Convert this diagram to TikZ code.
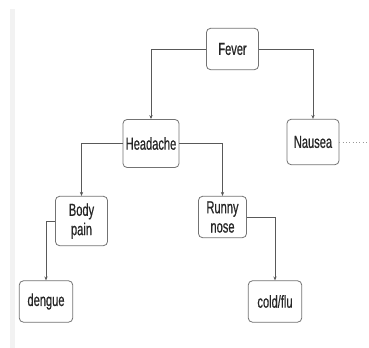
\documentclass[tikz,border=0pt]{standalone}
\usepackage{fontspec}
\setmainfont{Liberation Sans}[FakeStretch=0.64,FakeBold=0.6]
\usetikzlibrary{arrows.meta}

\tikzset{every picture/.style={line width=0.75pt}}
\tikzset{
  symptom/.style={draw=black!55, rounded corners=3pt, line width=0.6pt, fill=white,
    minimum width=39pt, minimum height=31pt, align=center, inner sep=1pt,
    text=black!85, font=\fontsize{13}{14.5}\selectfont},
  link/.style={draw=black!65, line width=0.5pt, -{Stealth[length=3pt,width=2.5pt]}},
}

\begin{document}
\begin{tikzpicture}[x=0.75pt,y=0.75pt,yscale=-1,xscale=1]
	\useasboundingbox (0,0) rectangle (369,348);

	%faint strip at left
	\fill [black!5] (10,9) rectangle (15,348);

	% Nodes
	\node [symptom] (fever) at (232.5,49) {Fever};
	\node [symptom, minimum width=42pt, minimum height=36pt] (headache) at (151,143.5) {Headache};
	\node [symptom, minimum height=34pt] (nausea) at (313,142) {Nausea};
	\node [symptom, minimum height=37pt] (bodypain) at (81.5,221) {Body\\pain};
	\node [symptom, minimum width=36pt] (runnynose) at (222.5,217) {Runny\\nose};
	\node [symptom, minimum width=40pt] (dengue) at (46,301.5) {dengue};
	\node [symptom, minimum width=40pt] (coldflu) at (275,301.5) {cold/flu};
	\coordinate (edge) at (369,142);

	% Links
	\draw [link] (fever.west) -| (headache.north);
	\draw [link] (fever.east) -| (nausea.north);
	\draw [link] (headache.west) -| (bodypain.north);
	\draw [link] (headache.east) -| (runnynose.north);
	\draw [link] (bodypain.west) -| (dengue.north);
	\draw [link] (runnynose.east) -| (coldflu.north);
	\draw [black!40, line width=0.5pt, dotted] (nausea.east) -- (edge);

\end{tikzpicture}
\end{document}
